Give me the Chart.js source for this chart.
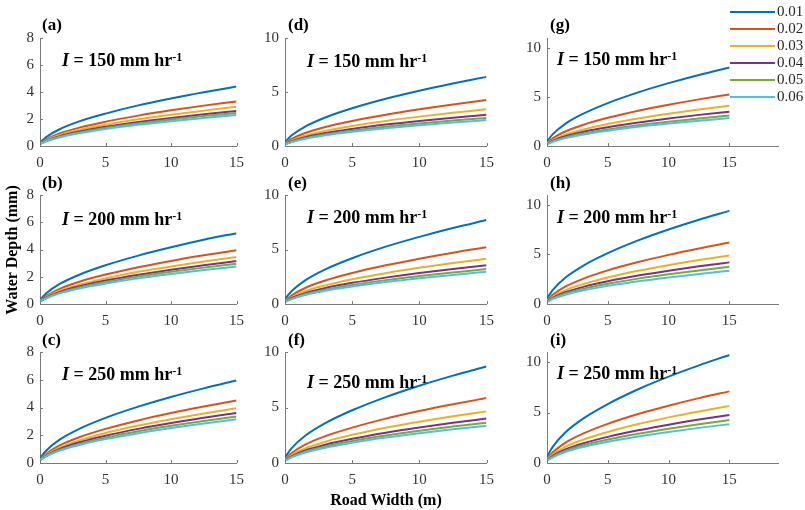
<!DOCTYPE html>
<html>
<head>
<meta charset="utf-8">
<script src="https://cdn.jsdelivr.net/npm/chart.js@4.4.0/dist/chart.umd.min.js"></script>
<style>
  body { margin: 0; background: #fff; width: 805px; height: 510px; overflow: hidden; position: relative;
         font-family: "Liberation Serif", "Times New Roman", serif; color: #000; }
  canvas { position: absolute; }
  .tag { position: absolute; font-weight: bold; font-size: 17px; line-height: 17px; white-space: nowrap; }
  .note { position: absolute; font-weight: bold; font-size: 18px; line-height: 18px; white-space: nowrap; }
  .note i { font-style: italic; }
  .note sup { font-size: 12px; line-height: 0; vertical-align: 5px; }
  .title { position: absolute; font-weight: bold; font-size: 16px; line-height: 16px; text-align: center; white-space: nowrap; }
  .key { position: absolute; height: 2px; width: 45px; }
  .keytxt { position: absolute; font-size: 15px; line-height: 15px; color: #262626; }
</style>
</head>
<body>
<script>
// road width samples (m)
const roadWidth = [0, 0.5, 1.5, 3, 5, 7.5, 10, 12.5, 15];
const slopes = ['0.01', '0.02', '0.03', '0.04', '0.05', '0.06'];
const intensity = [150, 200, 250];
const colors = ['#0072BD', '#D95319', '#EDB120', '#7E2F8E', '#77AC30', '#4DBEEE'];

// water depth (mm), one row per slope
const depthA = [
  [0.26, 0.68, 1.24, 1.82, 2.40, 3.01, 3.52, 3.98, 4.40],
  [0.20, 0.51, 0.93, 1.36, 1.80, 2.25, 2.64, 2.99, 3.30],
  [0.17, 0.45, 0.82, 1.20, 1.58, 1.98, 2.32, 2.62, 2.90],
  [0.16, 0.40, 0.73, 1.07, 1.42, 1.78, 2.08, 2.35, 2.60],
  [0.15, 0.38, 0.69, 1.01, 1.34, 1.67, 1.96, 2.22, 2.45],
  [0.14, 0.35, 0.65, 0.95, 1.26, 1.57, 1.84, 2.08, 2.30]
];
const depthB = [
  [0.31, 0.80, 1.47, 2.15, 2.84, 3.55, 4.16, 4.71, 5.20],
  [0.24, 0.61, 1.11, 1.63, 2.16, 2.70, 3.16, 3.57, 3.95],
  [0.21, 0.53, 0.97, 1.42, 1.88, 2.36, 2.76, 3.12, 3.45],
  [0.19, 0.49, 0.89, 1.30, 1.72, 2.15, 2.52, 2.85, 3.15],
  [0.18, 0.45, 0.83, 1.22, 1.61, 2.01, 2.36, 2.67, 2.95],
  [0.17, 0.42, 0.78, 1.14, 1.50, 1.88, 2.20, 2.49, 2.75]
];
const depthC = [
  [0.36, 0.92, 1.68, 2.46, 3.25, 4.06, 4.76, 5.38, 5.95],
  [0.27, 0.69, 1.27, 1.86, 2.46, 3.07, 3.60, 4.07, 4.50],
  [0.24, 0.61, 1.11, 1.63, 2.16, 2.70, 3.16, 3.57, 3.95],
  [0.22, 0.55, 1.02, 1.49, 1.97, 2.46, 2.88, 3.26, 3.60],
  [0.20, 0.52, 0.94, 1.38, 1.83, 2.29, 2.68, 3.03, 3.35],
  [0.19, 0.49, 0.89, 1.30, 1.72, 2.15, 2.52, 2.85, 3.15]
];
const depthD = [
  [0.38, 0.99, 1.80, 2.64, 3.49, 4.37, 5.12, 5.79, 6.40],
  [0.26, 0.65, 1.20, 1.76, 2.32, 2.90, 3.40, 3.85, 4.25],
  [0.20, 0.52, 0.96, 1.40, 1.86, 2.32, 2.72, 3.08, 3.40],
  [0.17, 0.45, 0.82, 1.20, 1.58, 1.98, 2.32, 2.62, 2.90],
  [0.16, 0.40, 0.73, 1.07, 1.42, 1.78, 2.08, 2.35, 2.60],
  [0.14, 0.37, 0.68, 0.99, 1.31, 1.64, 1.92, 2.17, 2.40]
];
const depthE = [
  [0.46, 1.19, 2.17, 3.18, 4.20, 5.26, 6.16, 6.97, 7.70],
  [0.31, 0.80, 1.47, 2.15, 2.84, 3.55, 4.16, 4.71, 5.20],
  [0.25, 0.64, 1.17, 1.71, 2.27, 2.83, 3.32, 3.76, 4.15],
  [0.21, 0.55, 1.00, 1.47, 1.94, 2.42, 2.84, 3.21, 3.55],
  [0.19, 0.49, 0.90, 1.32, 1.75, 2.19, 2.56, 2.90, 3.20],
  [0.18, 0.45, 0.83, 1.22, 1.61, 2.01, 2.36, 2.67, 2.95]
];
const depthF = [
  [0.52, 1.34, 2.45, 3.59, 4.75, 5.94, 6.96, 7.87, 8.70],
  [0.35, 0.90, 1.65, 2.42, 3.19, 4.00, 4.68, 5.29, 5.85],
  [0.28, 0.72, 1.31, 1.92, 2.54, 3.18, 3.72, 4.21, 4.65],
  [0.24, 0.62, 1.13, 1.65, 2.18, 2.73, 3.20, 3.62, 4.00],
  [0.22, 0.56, 1.02, 1.50, 1.98, 2.47, 2.90, 3.28, 3.62],
  [0.20, 0.52, 0.94, 1.38, 1.83, 2.29, 2.68, 3.03, 3.35]
];
const depthG = [
  [0.48, 1.23, 2.26, 3.30, 4.37, 5.46, 6.40, 7.24, 8.00],
  [0.32, 0.81, 1.48, 2.17, 2.87, 3.59, 4.20, 4.75, 5.25],
  [0.25, 0.63, 1.16, 1.69, 2.24, 2.80, 3.28, 3.71, 4.10],
  [0.21, 0.54, 0.99, 1.45, 1.91, 2.39, 2.80, 3.17, 3.50],
  [0.19, 0.48, 0.87, 1.28, 1.69, 2.12, 2.48, 2.81, 3.10],
  [0.17, 0.44, 0.80, 1.18, 1.56, 1.95, 2.28, 2.58, 2.85]
];
const depthH = [
  [0.56, 1.45, 2.65, 3.88, 5.13, 6.42, 7.52, 8.51, 9.40],
  [0.37, 0.95, 1.75, 2.56, 3.39, 4.23, 4.96, 5.61, 6.20],
  [0.29, 0.75, 1.38, 2.02, 2.68, 3.35, 3.92, 4.43, 4.90],
  [0.25, 0.65, 1.18, 1.73, 2.29, 2.87, 3.36, 3.80, 4.20],
  [0.23, 0.58, 1.06, 1.55, 2.05, 2.56, 3.00, 3.39, 3.75],
  [0.20, 0.52, 0.94, 1.38, 1.83, 2.29, 2.68, 3.03, 3.35]
];
const depthI = [
  [0.64, 1.65, 3.02, 4.42, 5.84, 7.31, 8.56, 9.68, 10.70],
  [0.43, 1.09, 2.00, 2.93, 3.88, 4.85, 5.68, 6.43, 7.10],
  [0.34, 0.87, 1.59, 2.33, 3.08, 3.86, 4.52, 5.11, 5.65],
  [0.29, 0.73, 1.34, 1.96, 2.59, 3.24, 3.80, 4.30, 4.75],
  [0.26, 0.65, 1.20, 1.76, 2.32, 2.90, 3.40, 3.85, 4.25],
  [0.23, 0.59, 1.09, 1.59, 2.10, 2.63, 3.08, 3.48, 3.85]
];

const xTicks = [0, 5, 10, 15];

const panels = [
  { tag: '(a)', depth: depthA, col: 0, row: 0, yMax: 8, yStep: 2, noteBase: 66 },
  { tag: '(b)', depth: depthB, col: 0, row: 1, yMax: 8, yStep: 2, noteBase: 225 },
  { tag: '(c)', depth: depthC, col: 0, row: 2, yMax: 8, yStep: 2, noteBase: 380 },
  { tag: '(d)', depth: depthD, col: 1, row: 0, yMax: 10, yStep: 5, noteBase: 67 },
  { tag: '(e)', depth: depthE, col: 1, row: 1, yMax: 10, yStep: 5, noteBase: 223 },
  { tag: '(f)', depth: depthF, col: 1, row: 2, yMax: 10, yStep: 5, noteBase: 388 },
  { tag: '(g)', depth: depthG, col: 2, row: 0, yMax: 11, yStep: 5, noteBase: 65 },
  { tag: '(h)', depth: depthH, col: 2, row: 1, yMax: 11, yStep: 5, noteBase: 223 },
  { tag: '(i)', depth: depthI, col: 2, row: 2, yMax: 11, yStep: 5, noteBase: 379 }
];

// page layout of the plot boxes
const colX = [[40, 238, 15], [285, 488, 15], [547, 778, 19]];
const rowY = [[35, 146], [192, 304], [349, 463]];
const noteX = [62, 307, 557];
const tagX = [42, 288, 550];
const tagTop = [15.5, 174, 331];

const tickFont = { family: 'Liberation Serif', size: 15 };
const axisColor = '#7a7a7a';

// MATLAB style ticks pointing into the plot
const innerTicks = {
  id: 'innerTicks',
  afterDatasetsDraw(chart) {
    const { ctx, chartArea: a, scales: { x, y } } = chart;
    ctx.save();
    ctx.strokeStyle = axisColor;
    ctx.lineWidth = 1;
    ctx.beginPath();
    x.ticks.forEach(t => {
      const px = Math.round(x.getPixelForValue(t.value)) + 0.5;
      ctx.moveTo(px, a.bottom); ctx.lineTo(px, a.bottom - 3);
    });
    y.ticks.forEach(t => {
      const py = Math.round(y.getPixelForValue(t.value)) + 0.5;
      ctx.moveTo(a.left, py); ctx.lineTo(a.left + 3, py);
    });
    ctx.stroke();
    ctx.restore();
  }
};

function addDiv(cls, html, left, top) {
  const d = document.createElement('div');
  d.className = cls;
  d.innerHTML = html;
  d.style.left = left + 'px';
  d.style.top = top + 'px';
  document.body.appendChild(d);
  return d;
}

function makePanel(p) {
  const [x0, x1, xMax] = colX[p.col];
  const [y0, y1] = rowY[p.row];
  const padL = 40, padT = 12, padR = 14, padB = 28;
  const c = document.createElement('canvas');
  c.width = x1 - x0 + padL + padR;
  c.height = y1 - y0 + padT + padB;
  c.style.left = (x0 - padL) + 'px';
  c.style.top = (y0 - padT) + 'px';
  document.body.appendChild(c);

  const yTicks = [];
  for (let v = 0; v <= p.yMax; v += p.yStep) yTicks.push(v);

  new Chart(c, {
    type: 'line',
    data: {
      datasets: p.depth.map((row, i) => ({
        label: slopes[i],
        data: row.map((v, k) => ({ x: roadWidth[k], y: v })),
        borderColor: colors[i],
        borderWidth: 2,
        pointRadius: 0,
        cubicInterpolationMode: 'monotone',
        fill: false
      })).reverse()
    },
    options: {
      responsive: false,
      animation: false,
      devicePixelRatio: 1,
      layout: { padding: { left: 0, top: padT, right: padR, bottom: 0 } },
      plugins: { legend: { display: false }, tooltip: { enabled: false } },
      scales: {
        x: {
          type: 'linear', min: 0, max: xMax,
          afterBuildTicks: s => { s.ticks = xTicks.map(v => ({ value: v })); },
          afterFit: s => { s.height = padB; },
          grid: { display: false, drawTicks: false },
          border: { color: axisColor, width: 1 },
          ticks: { font: tickFont, color: '#333', padding: 8, maxRotation: 0 }
        },
        y: {
          type: 'linear', min: 0, max: p.yMax,
          afterBuildTicks: s => { s.ticks = yTicks.map(v => ({ value: v })); },
          afterFit: s => { s.width = padL; },
          grid: { display: false, drawTicks: false },
          border: { color: axisColor, width: 1 },
          ticks: { font: tickFont, color: '#333', padding: 6 }
        }
      }
    },
    plugins: [innerTicks]
  });

  addDiv('tag', p.tag, tagX[p.col], tagTop[p.row]);
  addDiv('note', '<i>I</i> = ' + intensity[p.row] + ' mm hr<sup>-1</sup>', noteX[p.col], p.noteBase - 15);
}

panels.forEach(makePanel);

// shared axis titles
addDiv('title', 'Road Width (m)', 386 - 100, 491.5).style.width = '200px';
const yt = addDiv('title', 'Water Depth (mm)', 12 - 100, 250 - 8);
yt.style.width = '200px';
yt.style.transform = 'rotate(-90deg)';

// legend
slopes.forEach((s, i) => {
  const cy = 12 + i * 17;
  const k = addDiv('key', '', 730, cy - 1);
  k.style.background = colors[i];
  addDiv('keytxt', s, 777, cy - 7.6);
});
</script>
</body>
</html>
